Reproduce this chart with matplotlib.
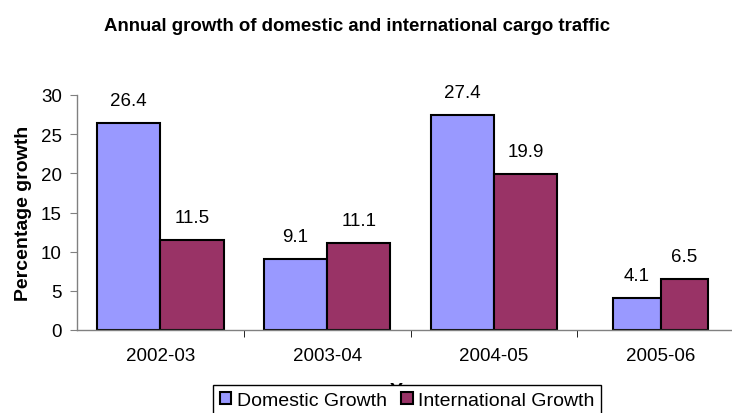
import numpy as np
import matplotlib.pyplot as plt
from matplotlib.ticker import FixedLocator

# data
years = ["2002-03", "2003-04", "2004-05", "2005-06"]
domestic = [26.4, 9.1, 27.4, 4.1]
international = [11.5, 11.1, 19.9, 6.5]

plt.rcParams["font.family"] = ["Liberation Sans", "DejaVu Sans"]

fig = plt.figure(figsize=(7.32, 4.14), dpi=100)
ax = fig.add_axes([77 / 732, 83 / 414, 667 / 732, 235 / 414])

x = np.arange(len(years))
# last group is drawn narrower in the reference picture
w = np.array([0.38, 0.38, 0.38, 0.285])
b1 = ax.bar(x - w / 2, domestic, w, color="#9999FF", edgecolor="black", linewidth=1.5,
            label="Domestic Growth")
b2 = ax.bar(x + w / 2, international, w, color="#993366", edgecolor="black", linewidth=1.5,
            label="International Growth")
ax.bar_label(b1, fmt="%.1f", padding=10, fontsize=13.5)
ax.bar_label(b2, fmt="%.1f", padding=10, fontsize=13.5)

ax.set_xlim(-0.5, len(years) - 0.5)
ax.set_ylim(0, 30)
ax.set_yticks(range(0, 31, 5))
ax.set_xticks(x)
ax.set_xticklabels(years)
ax.xaxis.set_minor_locator(FixedLocator(x[:-1] + 0.5))
ax.tick_params(axis="x", which="major", length=0, labelsize=13.5, pad=12)
ax.tick_params(axis="x", which="minor", length=5, color="black", direction="out")
ax.tick_params(axis="y", length=5, color="#808080", labelsize=13.5, pad=6)

for s in ["top", "right"]:
    ax.spines[s].set_visible(False)
for s in ["left", "bottom"]:
    ax.spines[s].set_color("#808080")
    ax.spines[s].set_linewidth(1)

ax.set_ylabel("Percentage growth", fontsize=14, fontweight="bold", labelpad=6)
ax.set_xlabel("Year", fontsize=14, fontweight="bold", labelpad=13)

fig.text(357 / 732, 1 - 31 / 414, "Annual growth of domestic and international cargo traffic",
         ha="center", va="baseline", fontsize=13.4, fontweight="bold")

leg = fig.legend(loc="upper left", bbox_to_anchor=(213 / 732, 1 - 386 / 414), ncol=2,
                 fontsize=14, frameon=True, fancybox=False, framealpha=1,
                 edgecolor="black", handlelength=0.6, handleheight=0.6,
                 handletextpad=0.26, columnspacing=0.75, borderpad=0.35, borderaxespad=0)
leg.get_frame().set_linewidth(1)

fig.savefig("out.png", dpi=100)
